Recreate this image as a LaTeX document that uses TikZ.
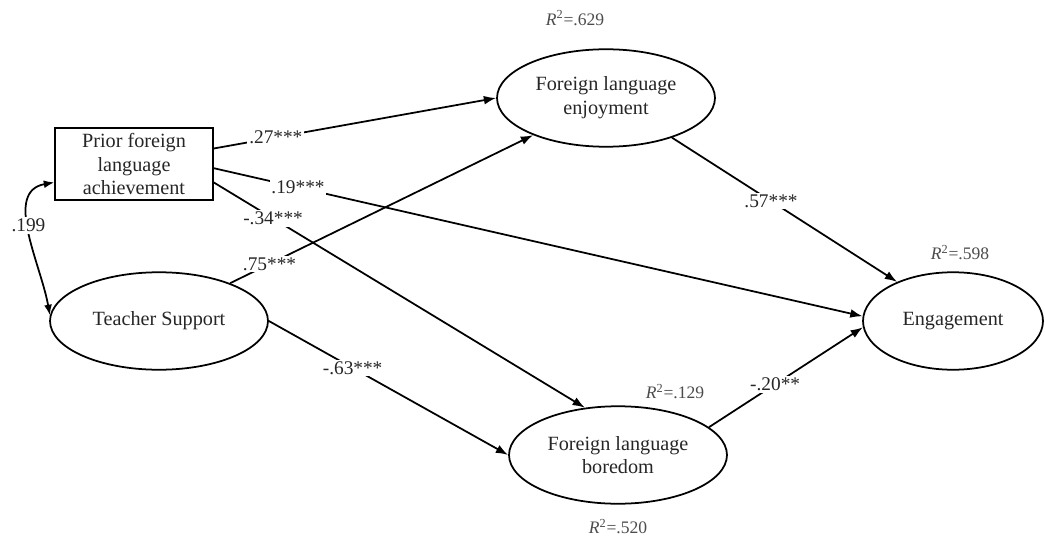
\documentclass[tikz,border=0pt]{standalone}
\usepackage{fontspec}
\setmainfont{Liberation Serif}
\usepackage{tikz}
\usetikzlibrary{shapes.geometric, arrows.meta, positioning, calc}

\begin{document}
\begin{tikzpicture}[
        x=0.02cm, y=0.02cm,
        base/.style={
            draw, align=center, font=\fontsize{11.5}{13.5}\selectfont,
            text=black!85, line width=1pt, inner sep=2pt
        },
        latent/.style={base, ellipse, minimum width=4.36cm, minimum height=1.95cm},
        observed/.style={base, rectangle, minimum width=3.16cm, minimum height=1.44cm, line width=0.8pt},
        coef/.style={fill=white, inner sep=1pt, font=\fontsize{11}{13}\selectfont, text=black!85},
        rsq/.style={font=\fontsize{10}{12}\selectfont, text=black!70, inner sep=1pt},
        arrow/.style={line width=1pt, -{Latex[length=7pt, width=5pt]}},
        corr/.style={line width=1pt, {Latex[length=6pt, width=4.5pt]}-{Latex[length=6pt, width=4.5pt]}}
    ]
    \useasboundingbox (0,0) rectangle (1045,535);

        % Nodes
        \node[observed] (prior) at (134,371) {Prior foreign \\ language \\ achievement};

        \node[latent] (teacher) at (159,214) {Teacher Support};

        \node[latent] (fle) at (606,437) {Foreign language \\ enjoyment};

        \node[latent] (flb) at (618,80) {Foreign language \\ boredom};

        \node[latent, minimum width=3.6cm] (eng) at (953,214) {Engagement};

        % R squared
        \node[rsq, above=0.42cm of fle.north, xshift=-0.62cm] (r2fle) {\textit{R}\textsuperscript{2}=.629};
        \node[rsq, above=0.19cm of eng.north, xshift=0.14cm] (r2eng) {\textit{R}\textsuperscript{2}=.598};
        \node[rsq, above=0.09cm of flb.north, xshift=1.14cm] (r2flb) {\textit{R}\textsuperscript{2}=.129};
        \node[rsq, below=0.25cm of flb.south] (r2flbb) {\textit{R}\textsuperscript{2}=.520};

        % Arrows
        \draw[arrow] (prior.11) -- node[coef, pos=0.22] {.27***} (fle.west);
        \draw[arrow] (prior.-3) -- node[coef, pos=0.13] {.19***} (eng.177);
        \draw[arrow] (prior.-13) -- node[coef, pos=0.16] {-.34***} (flb.125);
        \draw[arrow] (teacher.28) -- node[coef, pos=0.13] {.75***} (fle.207);
        \draw[arrow] (teacher.east) -- node[coef, pos=0.35] {-.63***} (flb.west);
        \draw[arrow] (fle.-31) -- node[coef, pos=0.44] {.57***} (eng.145);
        \draw[arrow] (flb.17) -- node[coef, pos=0.43] {-.20**} (eng.184);
        \draw[corr] (prior.193) to[out=190, in=100] node[coef, pos=0.45] {.199} (teacher.177);

    \end{tikzpicture}
\end{document}
